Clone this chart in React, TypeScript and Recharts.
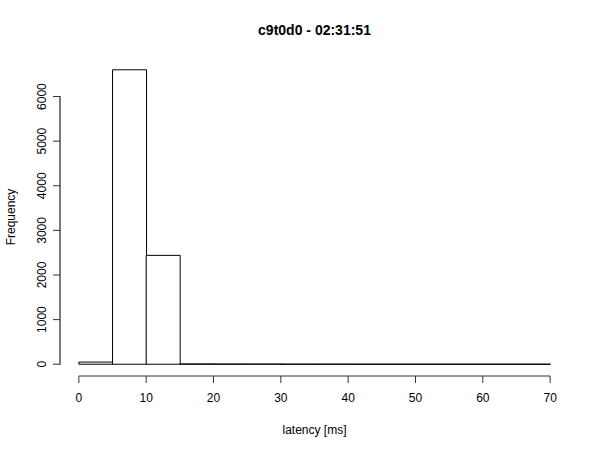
import React from 'react';
import { ComposedChart, Bar, XAxis, YAxis, ReferenceLine } from 'recharts';

const binStarts = [0, 5, 10, 15, 20, 25, 30, 35, 40, 45, 50, 55, 60, 65];
const binWidth = 5;
const counts = [48, 6600, 2440, 6, 4, 3, 2, 2, 1, 1, 1, 1, 1, 1];
const xTicks = [0, 10, 20, 30, 40, 50, 60, 70];
const yTicks = [0, 1000, 2000, 3000, 4000, 5000, 6000];

const title = 'c9t0d0 - 02:31:51';
const xLabel = 'latency [ms]';
const yLabel = 'Frequency';

const xMin = 0;
const xMax = 70;
const yMaxData = 6600;
const xExt = (xMax - xMin) * 0.04;
const yExt = yMaxData * 0.04;
const xDomain: [number, number] = [xMin - xExt, xMax + xExt];
const yDomain: [number, number] = [-yExt, yMaxData + yExt];

const data = binStarts.map((s, i) => ({
  bin: `${s}-${s + binWidth}`,
  mid: s + binWidth / 2,
  count: counts[i],
}));

const FONT = '"Liberation Sans", Arial, Helvetica, sans-serif';

const W = 600;
const H = 450;
const margin = { top: 58, right: 31, bottom: 14, left: 20 };
const yAxisWidth = 40;
const xAxisHeight = 60;
const tickSize = 7;
const tickMargin = 7;
const plotWidth = W - margin.left - margin.right - yAxisWidth;
const plotHeight = H - margin.top - margin.bottom - xAxisHeight;
const padPx = (plotWidth * xExt) / (xDomain[1] - xDomain[0]);

// y axis line spans only from the first to the last tick (R style)
const pxPerY = plotHeight / (yDomain[1] - yDomain[0]);
const yLineLen = (yTicks[yTicks.length - 1] - yTicks[0]) * pxPerY;

const YTick = (props: any) => {
  const { x, y, payload, index } = props;
  const axisX = x + tickSize + tickMargin;
  return (
    <g>
      <line x1={axisX - tickSize} y1={y} x2={axisX} y2={y} stroke="#333" strokeWidth={1} />
      {index === 0 ? (
        <line x1={axisX} y1={y + 0.5} x2={axisX} y2={y - yLineLen - 0.5} stroke="#222" strokeWidth={1.2} />
      ) : null}
      <text
        x={x}
        y={y}
        transform={`rotate(-90, ${x}, ${y})`}
        textAnchor="middle"
        fontSize={12}
        fontFamily={FONT}
        fill="#000"
      >
        {payload.value}
      </text>
    </g>
  );
};

export default function App() {
  const plotLeft = margin.left + yAxisWidth;
  const plotRight = W - margin.right;
  const plotTop = margin.top;
  const plotBottom = plotTop + plotHeight;
  const cx = (plotLeft + plotRight) / 2;
  const cy = (plotTop + plotBottom) / 2;
  return (
    <div style={{ position: 'absolute', left: 0, top: 0, width: W, height: H, background: '#fff' }}>
      <ComposedChart width={W} height={H} data={data} margin={margin} barCategoryGap={0} barGap={0}>
        <XAxis xAxisId="cat" dataKey="bin" type="category" hide height={0} padding={{ left: padPx, right: padPx }} />
        <XAxis
          xAxisId="num"
          dataKey="mid"
          type="number"
          domain={xDomain}
          ticks={xTicks}
          allowDataOverflow
          axisLine={false}
          tickLine={{ stroke: '#333' }}
          tickSize={tickSize}
          tickMargin={10}
          height={xAxisHeight}
          tick={{ fontSize: 12, fontFamily: FONT, fill: '#000' }}
          interval={0}
        />
        <YAxis
          yAxisId="v"
          type="number"
          domain={yDomain}
          ticks={yTicks}
          allowDataOverflow
          axisLine={false}
          tickLine={false}
          tickSize={tickSize}
          tickMargin={tickMargin}
          width={yAxisWidth}
          tick={<YTick />}
          interval={0}
        />
        <ReferenceLine
          xAxisId="num"
          yAxisId="v"
          segment={[{ x: xMin, y: yDomain[0] }, { x: xMax, y: yDomain[0] }]}
          stroke="#333"
          ifOverflow="visible"
        />
        <Bar xAxisId="cat" yAxisId="v" dataKey="count" fill="#fff" stroke="#000" strokeWidth={1} isAnimationActive={false} />
        <text x={cx} y={35} textAnchor="middle" fontSize={14} fontWeight="bold" fontFamily={FONT} fill="#000">
          {title}
        </text>
        <text x={cx} y={434} textAnchor="middle" fontSize={12} fontFamily={FONT} fill="#000">
          {xLabel}
        </text>
        <text
          x={15}
          y={cy}
          transform={`rotate(-90, 15, ${cy})`}
          textAnchor="middle"
          fontSize={12}
          fontFamily={FONT}
          fill="#000"
        >
          {yLabel}
        </text>
      </ComposedChart>
    </div>
  );
}
